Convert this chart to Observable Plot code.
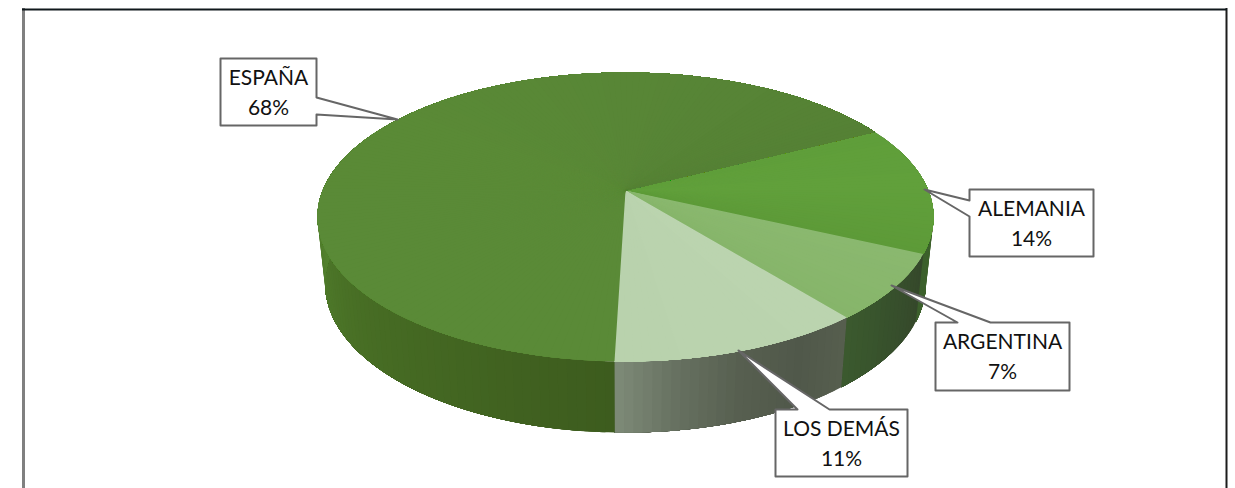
<!DOCTYPE html>
<html><head><meta charset="utf-8">
<script src="https://cdn.jsdelivr.net/npm/d3@7"></script>
<script src="https://cdn.jsdelivr.net/npm/@observablehq/plot@0.6"></script>
<style>html,body{margin:0;padding:0;background:#fff}svg{display:block}</style>
</head><body><div id="c"></div>
<script>
// Data
const paises = ["ALEMANIA", "ARGENTINA", "LOS DEMÁS", "ESPAÑA"];
const valores = [14, 7, 11, 68];

// Face shading (start to end of each slice)
const topShades = [
  ["#5f9e3a", "#61a03b", "#5d9a38"],
  ["#8ab86f", "#89b76d", "#86b56a"],
  ["#bbd4af", "#bad3ae", "#b9d2ad"],
  ["#5a8a37", "#5a8a37", "#5a8a36", "#588636", "#558135"]
];
const sideShades = [
  ["#3f6a2a", "#3e6529", "#3c5f2c"],
  ["#35482b", "#37502c", "#3b5a2e"],
  ["#575e4e", "#50584a", "#575f50", "#667060", "#7e8b78"],
  ["#3d5c1e", "#476d24", "#558530", "#558530", "#4c7a2a", "#40661f"]
];

// Callout layout: box [left, top, right, bottom], tail base and tip
const callouts = [
  {i: 0, box: [969, 189, 1093, 256], tail: [[969, 216], [924, 189], [969, 200]]},
  {i: 1, box: [935, 322, 1069, 390], tail: [[990, 322], [891, 285], [957, 322]]},
  {i: 2, box: [775, 409, 907, 476], tail: [[829, 409], [738, 350], [797, 409]]},
  {i: 3, box: [220, 58, 316, 125], tail: [[316, 97], [397, 119], [316, 114]]}
];

// Pie geometry: a tilted disc seen in perspective
const startAngle = -27;
const cx = 625, cy = 190, a = 302.8, b = 139.6, k = 0.1834, warp = 3.5;
const project = (deg, lower) => {
  let t = deg * Math.PI / 180;
  t += warp * Math.PI / 180 * Math.max(0, Math.sin(t));
  const u = Math.cos(t), v = Math.sin(t), w = 1 - k * v;
  return lower
    ? [cx + 0.975 * a * u / w, cy + 66 + 1.03 * b * v / w]
    : [cx + a * u / w, cy + b * v / w];
};

const total = d3.sum(valores);
let acc = startAngle;
const slices = paises.map((p, i) => {
  const a0 = acc; acc += valores[i] / total * 360;
  return {p, i, a0, a1: acc};
});

// Each band runs from its own start to the end of the slice and is painted
// over the previous one, so no seams show between shades.
const topRows = [], sideRows = [];
const arc = (from, to, lower) => {
  const n = Math.max(1, Math.ceil(to - from)), out = [];
  for (let q = 0; q <= n; q++) out.push(project(from + (to - from) * q / n, lower));
  return out;
};
for (const s of slices) {
  const ct = d3.piecewise(d3.interpolateRgb, topShades[s.i]);
  const cs = d3.piecewise(d3.interpolateRgb, sideShades[s.i]);
  const n = Math.max(2, Math.ceil((s.a1 - s.a0) / 1.5));
  for (let j = 0; j < n; j++) {
    const t0 = s.a0 + (s.a1 - s.a0) * j / n;
    const tm = (j + .5) / n, idT = `t${s.i}-${String(j).padStart(4, "0")}`, idS = `s${s.i}-${String(j).padStart(4, "0")}`;
    const colT = ct(tm), colS = cs(tm);
    for (const [x, y] of [[cx, cy], ...arc(t0, s.a1)]) topRows.push({x, y, id: idT, c: colT});
    for (const [x, y] of [...arc(t0, s.a1), ...arc(t0, s.a1, true).reverse()]) sideRows.push({x, y, id: idS, c: colS});
  }
}

const shapeRows = [];
for (const c of callouts) {
  const [l, t, r, bt] = c.box;
  let pts;
  if (c.i === 0) pts = [[l, t], [r, t], [r, bt], [l, bt], ...c.tail];
  else if (c.i === 3) pts = [[l, t], [r, t], c.tail[0], c.tail[1], c.tail[2], [r, bt], [l, bt]];
  else pts = [[l, t], [c.tail[2][0], t], c.tail[1], [c.tail[0][0], t], [r, t], [r, bt], [l, bt]];
  for (const [x, y] of pts) shapeRows.push({x, y, id: c.i});
}
const labelRows = callouts.map(c => ({
  x: (c.box[0] + c.box[2]) / 2, y: (c.box[1] + c.box[3]) / 2,
  text: `${paises[c.i]}\n${valores[c.i]}%`
}));

const chart = Plot.plot({
  width: 1235, height: 488,
  margin: 0, marginTop: 0, marginRight: 0, marginBottom: 0, marginLeft: 0,
  x: {domain: [0, 1235], range: [0, 1235], axis: null},
  y: {domain: [0, 488], range: [0, 488], axis: null},
  style: {background: "#fff"},
  marks: [
    Plot.ruleX([23], {y1: 8, y2: 488, stroke: "#808080", strokeWidth: 3}),
    Plot.ruleX([1226], {y1: 8, y2: 488, stroke: "#1c1c1c", strokeWidth: 2}),
    Plot.ruleY([9], {x1: 22, x2: 1227, stroke: "#10181c", strokeWidth: 2}),
    Plot.line(sideRows, {x: "x", y: "y", z: "id", curve: "linear-closed",
      fill: {value: "c", scale: null}, stroke: "none"}),
    Plot.line(topRows, {x: "x", y: "y", z: "id", curve: "linear-closed",
      fill: {value: "c", scale: null}, stroke: "none"}),
    Plot.line(shapeRows, {x: "x", y: "y", z: "id", curve: "linear-closed",
      fill: "#fff", stroke: "#666", strokeWidth: 2}),
    Plot.text(labelRows, {x: "x", y: "y", text: "text", fontSize: 21, lineHeight: 1.45, dy: -2,
      fontFamily: "Lato", fill: "#111", textAnchor: "middle"})
  ]
});
document.getElementById("c").appendChild(chart);
</script></body></html>
